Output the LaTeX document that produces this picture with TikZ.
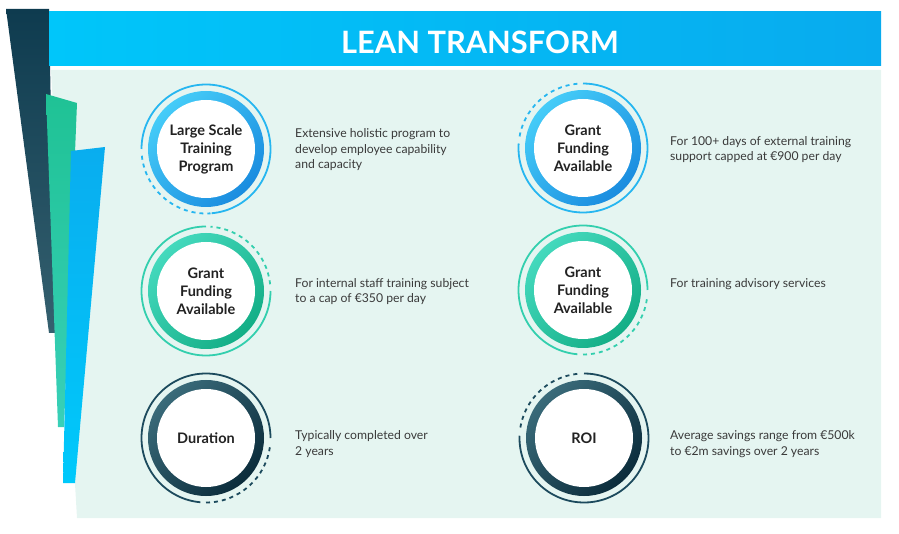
\documentclass[tikz,border=0pt]{standalone}
\usepackage{fontspec}
\setmainfont{Lato}

\definecolor{navyA}{HTML}{0E3B4F}
\definecolor{navyB}{HTML}{35606F}
\definecolor{greenA}{HTML}{1FC295}
\definecolor{greenB}{HTML}{38D0B8}
\definecolor{blueA}{HTML}{09ADEF}
\definecolor{blueB}{HTML}{00C9FB}
\definecolor{headL}{HTML}{00C6FA}
\definecolor{headR}{HTML}{08ABEE}
\definecolor{panel}{HTML}{E5F5F1}
\definecolor{ink}{HTML}{222222}
\definecolor{copy}{HTML}{3A3A3A}
\definecolor{skyL}{HTML}{45CCF8}
\definecolor{skyD}{HTML}{1A8CDF}
\definecolor{skyT}{HTML}{26B6F0}
\definecolor{mintL}{HTML}{44D9BD}
\definecolor{mintD}{HTML}{14AE86}
\definecolor{mintT}{HTML}{33CFAE}
\definecolor{deepL}{HTML}{3A6B7A}
\definecolor{deepD}{HTML}{0B2C3B}
\definecolor{deepT}{HTML}{1C4A5D}

\tikzset{
  disc/.style={circle, fill=white, minimum size=98pt, inner sep=0pt, align=center,
    text=ink, font=\bfseries\fontsize{14.5}{18}\selectfont},
  desc/.style={anchor=west, align=left, inner sep=0pt, text=copy,
    font=\fontsize{12.2}{15.5}\selectfont},
  headline/.style={text=white, font=\bfseries\fontsize{30.8}{34}\selectfont},
  rim/.style={line width=1.8pt},
  rimdash/.style={rim, dash pattern=on 4pt off 4pt}
}

\begin{document}
\begin{tikzpicture}[x=1pt, y=1pt]
  \useasboundingbox (0,0) rectangle (899,533);

  % bars and panel
  \shade[top color=navyA, bottom color=navyB] (6,524) -- (49,524) -- (55,200) -- (49,200) -- cycle;
  \fill[panel] (51,463) -- (881,463) -- (881,15) -- (77,15) -- cycle;
  \shade[top color=greenA, bottom color=greenB] (46,439) -- (77,430) -- (64,106) -- (58,106) -- cycle;
  \shade[top color=blueA, bottom color=blueB] (71,382) -- (105,386) -- (75,50) -- (63,50) -- cycle;

  % header
  \shade[left color=headL, right color=headR] (49,521) rectangle (881,467);
  \node[headline] (title) at (480,491) {LEAN TRANSFORM};

  % left column
  \shade[top color=skyL, bottom color=skyD, shading angle=45] (206,384) circle (58);
  \node[disc] (a) at (206,384) {Large Scale\\Training\\Program};
  \draw[rim, skyT] (a.center) ++(-85:64.5) arc[start angle=-85, end angle=180, radius=64.5];
  \draw[rimdash, skyT] (a.center) ++(186:64.5) arc[start angle=186, end angle=274, radius=64.5];

  \shade[top color=mintL, bottom color=mintD, shading angle=45] (206,242) circle (58);
  \node[disc] (b) at (206,242) {Grant\\Funding\\Available};
  \draw[rim, mintT] (b.center) ++(90:64.5) arc[start angle=90, end angle=360, radius=64.5];
  \draw[rimdash, mintT] (b.center) ++(6:64.5) arc[start angle=6, end angle=86, radius=64.5];

  \shade[top color=deepL, bottom color=deepD, shading angle=45] (206,95) circle (58);
  \node[disc] (c) at (206,95) {Duration};
  \draw[rim, deepT] (c.center) ++(0:64.5) arc[start angle=0, end angle=265, radius=64.5];
  \draw[rimdash, deepT] (c.center) ++(270:64.5) arc[start angle=270, end angle=354, radius=64.5];

  % right column
  \shade[top color=skyL, bottom color=skyD, shading angle=45] (583,385) circle (58);
  \node[disc] (d) at (583,385) {Grant\\Funding\\Available};
  \draw[rim, skyT] (d.center) ++(176:64.5) arc[start angle=176, end angle=450, radius=64.5];
  \draw[rimdash, skyT] (d.center) ++(95:64.5) arc[start angle=95, end angle=172, radius=64.5];

  \shade[top color=mintL, bottom color=mintD, shading angle=45] (583,243) circle (58);
  \node[disc] (e) at (583,243) {Grant\\Funding\\Available};
  \draw[rim, mintT] (e.center) ++(0:64.5) arc[start angle=0, end angle=265, radius=64.5];
  \draw[rimdash, mintT] (e.center) ++(270:64.5) arc[start angle=270, end angle=354, radius=64.5];

  \shade[top color=deepL, bottom color=deepD, shading angle=45] (584,95) circle (58);
  \node[disc] (f) at (584,95) {ROI};
  \draw[rim, deepT] (f.center) ++(178:64.5) arc[start angle=178, end angle=450, radius=64.5];
  \draw[rimdash, deepT] (f.center) ++(96:64.5) arc[start angle=96, end angle=174, radius=64.5];

  % descriptions
  \node[desc] (da) at (295,383) {Extensive holistic program to\\develop employee capability\\and capacity};
  \node[desc] (db) at (295,241.5) {For internal staff training subject\\to a cap of €350 per day};
  \node[desc] (dc) at (295,89) {Typically completed over\\2 years};
  \node[desc] (dd) at (670,383.5) {For 100+ days of external training\\support capped at €900 per day};
  \node[desc] (de) at (670,249) {For training advisory services};
  \node[desc] (df) at (670,89) {Average savings range from €500k\\to €2m savings over 2 years};
\end{tikzpicture}
\end{document}
